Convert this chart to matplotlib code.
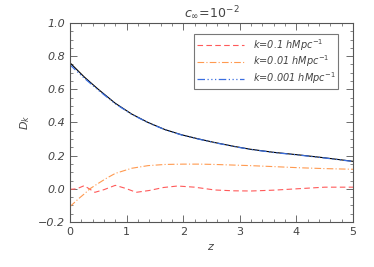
import matplotlib.pyplot as plt
from matplotlib.ticker import MultipleLocator

z_main = [0.0, 0.25, 0.5, 0.8, 1.09, 1.38, 1.68, 1.97, 2.27, 2.56, 2.9, 3.18, 3.6, 4.06, 4.5, 5.0]
d_lin = [0.76, 0.675, 0.60, 0.516, 0.451, 0.40, 0.357, 0.326, 0.301, 0.279, 0.256, 0.239, 0.22, 0.204, 0.187, 0.166]
d_k001 = [0.748, 0.668, 0.595, 0.513, 0.449, 0.399, 0.356, 0.325, 0.300, 0.278, 0.255, 0.238, 0.219, 0.203, 0.186, 0.165]

z_k01 = [0.0, 0.12, 0.25, 0.34, 0.44, 0.6, 0.8, 0.98, 1.17, 1.4, 1.65, 1.9, 2.2, 2.56, 2.9, 3.2, 3.6, 4.0, 4.5, 5.0]
d_k01 = [-0.003, 0.0, 0.019, 0.0, -0.021, -0.005, 0.021, 0.003, -0.021, -0.01, 0.008, 0.017, 0.01, -0.007, -0.012, -0.013, -0.008, 0.0, 0.01, 0.01]

z_k0_01 = [0.0, 0.15, 0.265, 0.35, 0.5, 0.65, 0.8, 1.09, 1.38, 1.68, 2.0, 2.3, 2.56, 3.18, 3.6, 4.06, 4.5, 5.0]
d_k0_01 = [-0.107, -0.06, -0.027, 0.0, 0.033, 0.065, 0.093, 0.124, 0.14, 0.147, 0.149, 0.149, 0.147, 0.14, 0.134, 0.127, 0.122, 0.118]

labels = [r"$k$=0.1 $hMpc^{-1}$", r"$k$=0.01 $hMpc^{-1}$", r"$k$=0.001 $hMpc^{-1}$"]

fig = plt.figure(figsize=(3.74, 2.67), dpi=100)
ax = fig.add_axes([70 / 374, 45 / 267, 283 / 374, 199 / 267])

ax.plot(z_k01, d_k01, color="#ff5a5a", lw=0.8, ls=(0, (5, 3)), label=labels[0])
ax.plot(z_k0_01, d_k0_01, color="#ff9a50", lw=0.8, ls=(0, (6, 2, 1, 2)), label=labels[1])
ax.plot(z_main, d_lin, color="black", lw=0.8)
ax.plot(z_main, d_k001, color="#3a6ee0", lw=0.9, ls=(0, (6, 2, 1, 2, 1, 2, 1, 2)), label=labels[2])

ax.set_xlim(0, 5)
ax.set_ylim(-0.2, 1.0)
ax.xaxis.set_major_locator(MultipleLocator(1))
ax.xaxis.set_minor_locator(MultipleLocator(0.2))
ax.yaxis.set_major_locator(MultipleLocator(0.2))
ax.yaxis.set_minor_locator(MultipleLocator(0.05))
ax.tick_params(which="both", direction="in", top=True, right=True, colors="#555555",
               labelcolor="#444444", labelsize=8)
ax.tick_params(which="major", length=5, width=0.6)
ax.tick_params(which="minor", length=2.5, width=0.5)
ax.xaxis.set_major_formatter(plt.FuncFormatter(lambda v, p: f"{v:.0f}"))
ax.yaxis.set_major_formatter(plt.FuncFormatter(lambda v, p: f"{v:.1f}".replace("-", "\u2212")))
for lab in ax.get_yticklabels():
    lab.set_fontstyle("italic")
for s in ax.spines.values():
    s.set_color("#555555")
    s.set_linewidth(0.8)

ax.set_xlabel(r"$z$", color="#444444", fontsize=8)
ax.set_ylabel(r"$D_k$", color="#444444", fontsize=8)
ax.set_title(r"$c_\infty\!=\!10^{-2}$", color="#444444", fontsize=9, pad=4)

leg = ax.legend(loc="upper right", fontsize=7, frameon=True, fancybox=False,
                handlelength=4.8, borderpad=0.3, labelspacing=0.1, handletextpad=0.9,
                bbox_to_anchor=(0.965, 0.97))
leg.get_frame().set_edgecolor("#555555")
leg.get_frame().set_linewidth(0.8)
for t in leg.get_texts():
    t.set_color("#444444")
    t.set_fontstyle("italic")

fig.savefig("out.png", dpi=100)
